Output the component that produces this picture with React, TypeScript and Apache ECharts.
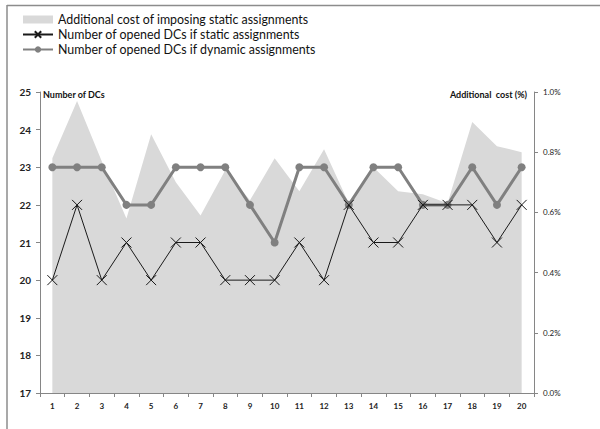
import React, { useEffect, useRef } from "react";
import * as echarts from "echarts";

const categories = ["1","2","3","4","5","6","7","8","9","10","11","12","13","14","15","16","17","18","19","20"];
const additionalCost = [0.78, 0.97, 0.77, 0.58, 0.86, 0.70, 0.59, 0.74, 0.64, 0.78, 0.67, 0.81, 0.63, 0.75, 0.67, 0.66, 0.63, 0.90, 0.82, 0.80];
const staticDCs = [20, 22, 20, 21, 20, 21, 21, 20, 20, 20, 21, 20, 22, 21, 21, 22, 22, 22, 21, 22];
const dynamicDCs = [23, 23, 23, 22, 22, 23, 23, 23, 22, 21, 23, 23, 22, 23, 23, 22, 22, 23, 22, 23];

const NAME_AREA = "Additional cost of imposing static assignments";
const NAME_STATIC = "Number of opened DCs if static assignments";
const NAME_DYNAMIC = "Number of opened DCs if dynamic assignments";

const FONT = "Lato, 'Open Sans', sans-serif";

export default function App() {
  const ref = useRef<HTMLDivElement>(null);
  useEffect(() => {
    if (!ref.current) return;
    const chart = echarts.init(ref.current, null, { renderer: "svg" });
    chart.setOption({
      animation: false,
      backgroundColor: "#ffffff",
      textStyle: { fontFamily: FONT },
      grid: { left: 40, right: 66, top: 92, bottom: 36 },
      legend: {
        orient: "vertical",
        left: 22,
        top: 12,
        padding: 0,
        itemWidth: 30,
        itemHeight: 8,
        itemGap: 0,
        textStyle: { fontFamily: FONT, fontSize: 12.4, lineHeight: 15, color: "#111" },
        data: [
          { name: NAME_AREA, icon: "rect" },
          { name: NAME_STATIC },
          { name: NAME_DYNAMIC },
        ],
      },
      xAxis: {
        type: "category",
        data: categories,
        boundaryGap: true,
        axisLine: { lineStyle: { color: "#868686", width: 1 } },
        axisTick: { show: true, length: 4, lineStyle: { color: "#868686" } },
        axisLabel: { fontSize: 8, fontWeight: "bold", color: "#222", margin: 9, fontFamily: FONT },
      },
      yAxis: [
        {
          type: "value",
          min: 17,
          max: 25,
          interval: 1,
          position: "left",
          splitLine: { show: false },
          axisLine: { show: true, lineStyle: { color: "#868686", width: 1 } },
          axisTick: { show: true, length: 4, lineStyle: { color: "#868686" } },
          axisLabel: { fontSize: 10, fontWeight: "bold", color: "#222", margin: 9, fontFamily: FONT },
        },
        {
          type: "value",
          min: 0,
          max: 1,
          interval: 0.2,
          position: "right",
          splitLine: { show: false },
          axisLine: { show: true, lineStyle: { color: "#868686", width: 1 } },
          axisTick: { show: true, length: 4, lineStyle: { color: "#868686" } },
          axisLabel: {
            fontSize: 8,
            color: "#222",
            margin: 9,
            fontFamily: FONT,
            formatter: (v: number) => v.toFixed(1) + "%",
          },
        },
      ],
      series: [
        {
          name: NAME_AREA,
          type: "line",
          yAxisIndex: 1,
          data: additionalCost,
          showSymbol: false,
          symbol: "none",
          lineStyle: { width: 0, color: "#d9d9d9" },
          itemStyle: { color: "#d9d9d9" },
          areaStyle: { color: "#d9d9d9", opacity: 1 },
          z: 1,
        },
        {
          name: NAME_DYNAMIC,
          type: "line",
          yAxisIndex: 0,
          data: dynamicDCs,
          symbol: "circle",
          symbolSize: 8,
          lineStyle: { color: "#808080", width: 3 },
          itemStyle: { color: "#808080" },
          z: 3,
        },
        {
          name: NAME_STATIC,
          type: "line",
          yAxisIndex: 0,
          data: staticDCs,
          symbol: "path://M0,0L10,10M10,0L0,10",
          symbolSize: 10,
          lineStyle: { color: "#1a1a1a", width: 1 },
          itemStyle: { color: "transparent", borderColor: "#1a1a1a", borderWidth: 1 },
          z: 4,
        },
      ],
      graphic: [
        {
          type: "line",
          shape: { x1: 7, y1: 5.5, x2: 600, y2: 5.5 },
          style: { stroke: "#8c8c8c", lineWidth: 1.5 },
        },
        {
          type: "line",
          shape: { x1: 7, y1: 5, x2: 7, y2: 429 },
          style: { stroke: "#8c8c8c", lineWidth: 1.5 },
        },
        {
          type: "text",
          left: 43,
          top: 90,
          style: { text: "Number of DCs", fontSize: 9, fontWeight: "bold", fill: "#111", fontFamily: FONT },
        },
        {
          type: "text",
          right: 73,
          top: 90,
          style: { text: "Additional  cost (%)", fontSize: 9, fontWeight: "bold", fill: "#111", fontFamily: FONT },
        },
      ],
    });
    return () => chart.dispose();
  }, []);
  return <div ref={ref} style={{ position: "fixed", left: 0, top: 0, width: 600, height: 429 }} />;
}
